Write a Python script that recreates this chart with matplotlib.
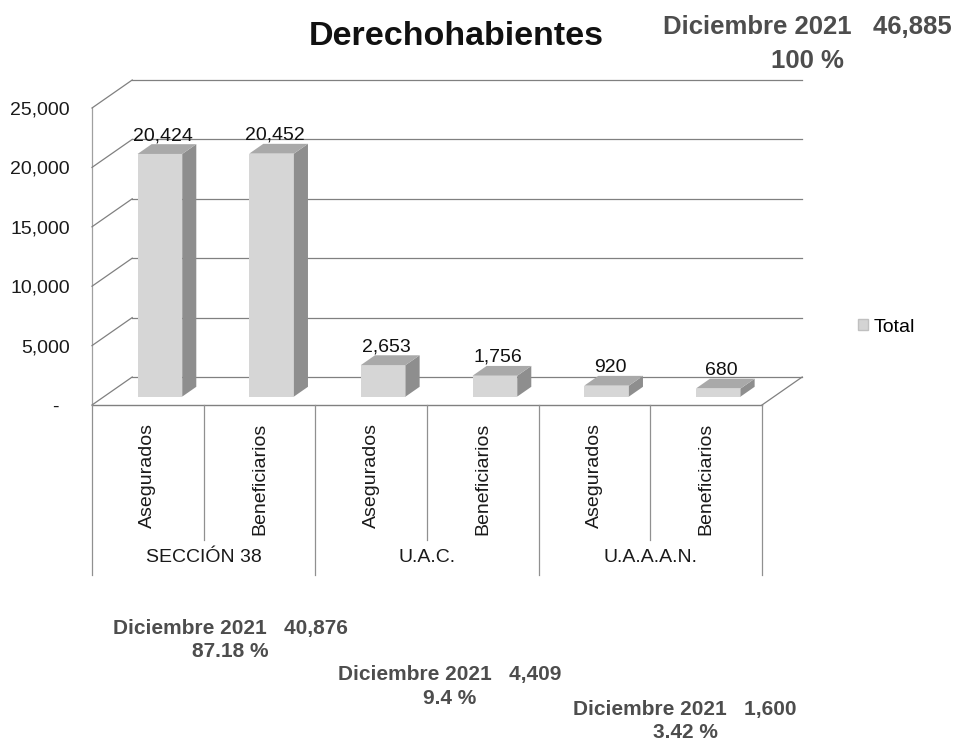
import matplotlib
matplotlib.use("Agg")
import matplotlib.pyplot as plt
from matplotlib.patches import Polygon, Patch

plt.rcParams["font.family"] = ["Liberation Sans", "DejaVu Sans"]

# datos
grupos = ["SECCIÓN 38", "U.A.C.", "U.A.A.A.N."]
subcategorias = ["Asegurados", "Beneficiarios"] * 3
valores = [20424, 20452, 2653, 1756, 920, 680]
y_ticks = [0, 5000, 10000, 15000, 20000, 25000]

total_txt = "Diciembre 2021   46,885\n100 %"
resumenes = [
    "Diciembre 2021   40,876\n87.18 %",
    "Diciembre 2021   4,409\n9.4 %",
    "Diciembre 2021   1,600\n3.42 %",
]

W, H = 959, 749
fig = plt.figure(figsize=(W / 100, H / 100), dpi=100)
fig.patch.set_facecolor("white")

# ejes: x de 92 a 762 px, y de 405 (0) a 108 (25,000)
ax = fig.add_axes([92 / W, (H - 405) / H, 670 / W, 297 / H])
ax.set_xlim(0, 6)
ax.set_ylim(0, 25000)
for s in ax.spines.values():
    s.set_visible(False)

DX, DY = 0.36, 2357   # profundidad del efecto 3D
grid_c = "#808080"
n = len(valores)

# pared izquierda, pared del fondo y piso
ax.plot([0, 0], [0, 25000], color="#a0a0a0", lw=0.9, zorder=1, clip_on=False)
for t in y_ticks:
    ax.plot([0, DX], [t, t + DY], color=grid_c, lw=0.9, zorder=1, clip_on=False)
    ax.plot([DX, n + DX], [t + DY, t + DY], color=grid_c, lw=0.9, zorder=1, clip_on=False)
ax.plot([0, n], [0, 0], color=grid_c, lw=1.0, zorder=2, clip_on=False)
ax.plot([n, n + DX], [0, DY], color=grid_c, lw=0.9, zorder=2, clip_on=False)

# barras con cara frontal, lateral y superior
f0, d, bw = 0.3, 0.35, 0.4
x0 = [i + 0.5 + f0 * DX for i in range(n)]
b0 = f0 * DY
ax.bar(x0, valores, width=bw, bottom=b0, color="#d6d6d6", edgecolor="none", zorder=3)
for xc, v in zip(x0, valores):
    xl, xr = xc - bw / 2, xc + bw / 2
    top = b0 + v
    lado = [(xr, b0), (xr + d * DX, b0 + d * DY), (xr + d * DX, top + d * DY), (xr, top)]
    tapa = [(xl, top), (xr, top), (xr + d * DX, top + d * DY), (xl + d * DX, top + d * DY)]
    ax.add_patch(Polygon(lado, closed=True, facecolor="#8e8e8e", edgecolor="none", zorder=3))
    ax.add_patch(Polygon(tapa, closed=True, facecolor="#a9a9a9", edgecolor="none", zorder=3))
    ax.text(xc + 0.03, top + d * DY, f"{v:,}", ha="center", va="bottom",
            fontsize=14, color="#111111", zorder=4)

# ejes y etiquetas
ax.set_yticks(y_ticks)
ax.set_yticklabels(["-  " if t == 0 else f"{t:,}" for t in y_ticks])
ax.set_xticks([i + 0.5 for i in range(n)])
ax.set_xticklabels(subcategorias, rotation=90, va="top")
ax.tick_params(axis="y", length=0, pad=16, labelsize=14, labelcolor="#1a1a1a")
ax.tick_params(axis="x", length=0, pad=13, labelsize=14, labelcolor="#1a1a1a")

xt = ax.get_xaxis_transform()
for k in range(n + 1):
    fondo = -0.572 if k % 2 == 0 else -0.455
    ax.plot([k, k], [0, fondo], transform=xt, color="#909090", lw=0.9, clip_on=False)
for g, nombre in enumerate(grupos):
    ax.text(2 * g + 1, -0.515, nombre, transform=xt, ha="center", va="center",
            fontsize=14, color="#1a1a1a")

# leyenda
fig.legend(handles=[Patch(facecolor="#d4d4d4", edgecolor="#c0c0c0")], labels=["Total"],
           loc="center left", bbox_to_anchor=(858 / W, 1 - 327 / H), frameon=False,
           fontsize=14, handlelength=0.5, handleheight=0.5, handletextpad=0.3,
           borderpad=0, borderaxespad=0)

# titulo y resumenes
fig.text(456 / W, 1 - 45 / H, "Derechohabientes", ha="center", va="baseline",
         fontsize=24.5, fontweight="bold", color="#111111")
fig.text(807 / W, 1 - 44 / H, total_txt, ha="center", va="center", multialignment="center",
         fontsize=18.5, fontweight="bold", color="#4d4d4d", linespacing=1.55)
for (cx, cy), txt in zip([(230, 640), (450, 686.5), (685, 721)], resumenes):
    fig.text(cx / W, 1 - cy / H, txt, ha="center", va="center", multialignment="center",
             fontsize=15, fontweight="bold", color="#4d4d4d", linespacing=1.3)

fig.savefig("out.png", dpi=100)
